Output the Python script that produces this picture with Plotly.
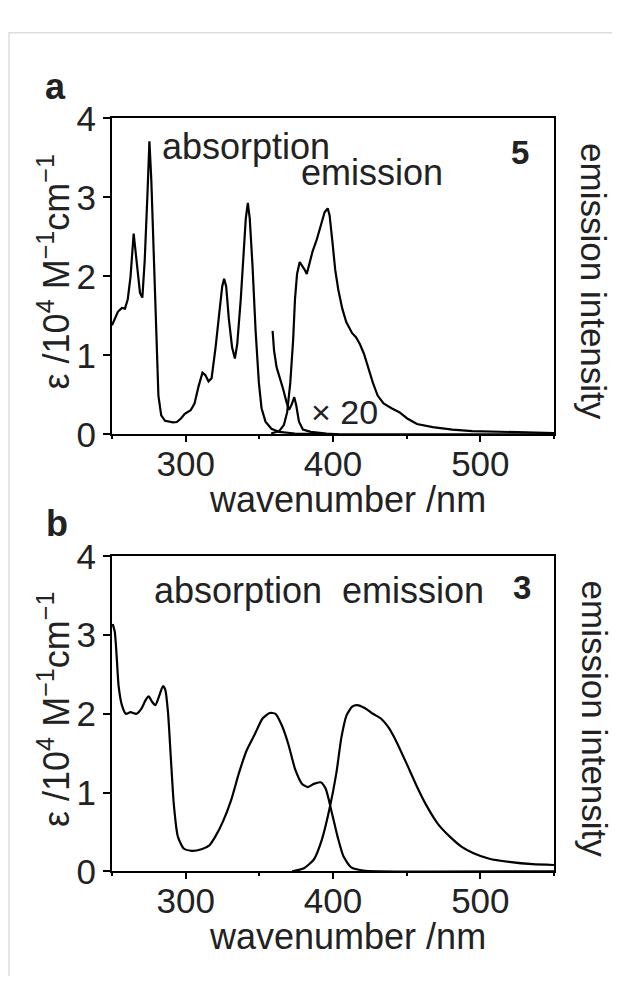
import plotly.graph_objects as go

# panel a: compound 5
wl_abs_a = [250, 254, 256.7, 258.8, 260.7, 262.6, 264.7, 266.8, 269, 270.6, 272.2, 274, 275.4,
            276.7, 278.6, 280.2, 281.5, 283.4, 286, 291.4, 294, 296.8, 299.4, 303.4, 306, 308.8,
            311.4, 313.3, 315.5, 317.6, 320.3, 322.9, 324.8, 326.1, 327.5, 329.3, 331.5, 333.4,
            335, 337.4, 339.5, 340.8, 342.2, 343.5, 345.4, 347.5, 349.7, 351.5, 354.2, 358.2,
            363.5, 374.2, 400, 550]
abs_a = [1.38, 1.55, 1.6, 1.59, 1.71, 2.0, 2.54, 2.2, 1.79, 1.73, 2.2, 3.01, 3.71,
         3.21, 2.2, 1.18, 0.49, 0.24, 0.17, 0.15, 0.155, 0.2, 0.26, 0.305, 0.39, 0.61,
         0.78, 0.75, 0.67, 0.71, 1.1, 1.55, 1.87, 1.97, 1.87, 1.46, 1.1, 0.96,
         1.14, 1.71, 2.36, 2.73, 2.93, 2.73, 2.12, 1.3, 0.65, 0.33, 0.16, 0.07,
         0.03, 0.01, 0.0, 0.0]

wl_x20_a = [359, 360, 361.7, 364.1, 366.2, 368.4, 370.2, 371.8, 373.7, 375, 376.9, 379.6,
            384.9, 395.6, 403.6]
x20_a = [1.31, 1.06, 0.85, 0.71, 0.57, 0.41, 0.31, 0.37, 0.47, 0.37, 0.16, 0.06,
         0.03, 0.01, 0.0]

wl_em_a = [358, 363.5, 366.7, 368.9, 371, 372.9, 374.2, 375.6, 377.4, 379, 380.9, 382.2,
           384.1, 386.2, 388.9, 391.6, 394.3, 396.4, 397.7, 399.6, 401.5, 403.6, 406.3, 409,
           413, 415.6, 418.3, 421, 423.7, 427.1, 430.3, 434.3, 439.7, 445, 450.4, 457,
           467.7, 481, 494.5, 521, 550]
em_a = [0.01, 0.04, 0.12, 0.28, 0.65, 1.18, 1.71, 2.03, 2.18, 2.14, 2.08, 2.03,
        2.16, 2.32, 2.46, 2.64, 2.81, 2.86, 2.77, 2.44, 2.08, 1.83, 1.59, 1.42,
        1.28, 1.23, 1.14, 1.02, 0.85, 0.65, 0.49, 0.39, 0.33, 0.28, 0.2, 0.13,
        0.09, 0.06, 0.04, 0.025, 0.016]

# panel b: compound 3
wl_abs_b = [250.5, 251.9, 253.2, 254.5, 256.7, 259.4, 262.6, 266.6, 270.1, 272.7, 274.9,
            277.3, 279.4, 282.1, 284.5, 286.1, 288, 289.9, 292, 294.7, 298.7, 304.1, 310.7,
            316.1, 320.1, 325.5, 330.8, 336.2, 341.5, 346.9, 352.2, 357, 361, 365.1, 369.6,
            374.4, 379, 383, 387, 391.6, 395, 399, 403.1, 407.1, 412.4, 420.5, 431, 550]
abs_b = [3.14, 3.04, 2.72, 2.35, 2.11, 2.0, 2.02, 2.0, 2.07, 2.17, 2.22,
         2.15, 2.11, 2.23, 2.35, 2.31, 2.02, 1.45, 0.84, 0.44, 0.29, 0.26, 0.28,
         0.33, 0.44, 0.64, 0.9, 1.25, 1.54, 1.74, 1.94, 2.01, 2.0, 1.86, 1.62,
         1.29, 1.11, 1.07, 1.11, 1.13, 1.05, 0.76, 0.44, 0.19, 0.05, 0.01, 0.0, 0.0]

wl_em_b = [372.3, 380.3, 387, 392.4, 397.7, 402.3, 405.7, 409.2, 413, 416.4, 421.8, 427.1,
           432.5, 437.9, 443.2, 449.9, 456.6, 463.3, 471.3, 479.3, 487.4, 495.4, 506.1,
           519.5, 535.5, 550]
em_b = [0.0, 0.04, 0.15, 0.4, 0.8, 1.25, 1.7, 1.98, 2.09, 2.11, 2.07, 2.0,
        1.94, 1.82, 1.64, 1.37, 1.09, 0.84, 0.6, 0.44, 0.31, 0.23, 0.16,
        0.12, 0.09, 0.08]

# the page body keeps its default 8px margin, so the figure is 16px smaller than the window
OFF = 8
FW, FH = 620 - 2 * OFF, 1003 - 2 * OFF
FONT = "Liberation Sans, Arial, sans-serif"
TXT = "#222222"


def px(x):
    return (x - OFF) / FW


def py(y):
    return 1 - (y - OFF) / FH


sharp = dict(color="black", width=2.2)
smooth = dict(color="black", width=2.2, shape="spline", smoothing=0.6)

fig = go.Figure()
fig.add_trace(go.Scatter(x=wl_abs_a, y=abs_a, mode="lines", line=sharp, xaxis="x", yaxis="y"))
fig.add_trace(go.Scatter(x=wl_x20_a, y=x20_a, mode="lines", line=sharp, xaxis="x", yaxis="y"))
fig.add_trace(go.Scatter(x=wl_em_a, y=em_a, mode="lines", line=sharp, xaxis="x", yaxis="y"))
fig.add_trace(go.Scatter(x=wl_abs_b, y=abs_b, mode="lines", line=smooth, xaxis="x2", yaxis="y2"))
fig.add_trace(go.Scatter(x=wl_em_b, y=em_b, mode="lines", line=smooth, xaxis="x2", yaxis="y2"))

panels = [(102, 431), (558, 886)]  # top, bottom of each plot box


def xax(anchor):
    return dict(domain=[px(112), px(554)], anchor=anchor, range=[250, 550],
                tick0=300, dtick=100, ticks="outside", ticklen=6, tickwidth=2, tickcolor="black",
                minor=dict(dtick=50, tick0=250, ticks="outside", ticklen=3, tickwidth=2, tickcolor="black"),
                ticklabelstandoff=-8,
                showline=True, linecolor="black", linewidth=2, mirror=True,
                showgrid=False, zeroline=False, tickfont=dict(size=35, family=FONT, color=TXT))


def yax(anchor, top, bottom):
    return dict(domain=[py(bottom), py(top)], anchor=anchor, range=[0, 4],
                dtick=1, ticks="outside", ticklen=7, tickwidth=2, tickcolor="black",
                showline=True, linecolor="black", linewidth=2, mirror=True,
                showgrid=False, zeroline=False, tickfont=dict(size=35, family=FONT, color=TXT))


fig.update_layout(
    width=FW, height=FH, margin=dict(l=0, r=0, t=0, b=0),
    paper_bgcolor="white", plot_bgcolor="white", showlegend=False,
    font=dict(family=FONT, size=36, color=TXT),
    xaxis=xax("y"), yaxis=yax("x", *panels[0]),
    xaxis2=xax("y2"), yaxis2=yax("x2", *panels[1]),
)

ann = []
for (top, bottom), lab, lx, ly in zip(panels, ["a", "b"], [55, 57], [69, 524]):
    mid = (top + bottom) / 2
    ann.append(dict(xref="paper", yref="paper", x=px(lx), y=py(ly), text="<b>%s</b>" % lab,
                    font=dict(size=36)))
    ann.append(dict(xref="paper", yref="paper", x=px(54), y=py(mid - 5),
                    text="ε /10<sup>4</sup> M<sup>−1</sup>cm<sup>−1</sup>", textangle=-90,
                    font=dict(size=36)))
    ann.append(dict(xref="paper", yref="paper", x=px(594), y=py(mid + 5),
                    text="emission intensity", textangle=90, font=dict(size=35)))
    ann.append(dict(xref="paper", yref="paper", x=px(347), y=py(bottom + 68),
                    text="wavenumber /nm", font=dict(size=36)))

ann += [
    dict(xref="x", yref="y", x=282.5, y=3.64, text="absorption", xanchor="left", font=dict(size=36)),
    dict(xref="x", yref="y", x=377, y=3.31, text="emission", xanchor="left", font=dict(size=36)),
    dict(xref="x", yref="y", x=527, y=3.57, text="<b>5</b>", font=dict(size=33)),
    dict(xref="x", yref="y", x=383.6, y=0.28, text="× 20", xanchor="left", font=dict(size=34)),
    dict(xref="x2", yref="y2", x=277.3, y=3.57, text="absorption", xanchor="left", font=dict(size=36)),
    dict(xref="x2", yref="y2", x=405, y=3.57, text="emission", xanchor="left", font=dict(size=36)),
    dict(xref="x2", yref="y2", x=528, y=3.6, text="<b>3</b>", font=dict(size=33)),
]
for a in ann:
    a.setdefault("xanchor", "center")
    a.update(showarrow=False, yanchor="middle")
    a["font"].update(family=FONT, color=TXT)
fig.update_layout(annotations=ann)

# light grey frame round the figure
fig.add_shape(type="path", xref="paper", yref="paper",
              path="M %f,0 L %f,%f L 1,%f" % (px(9), px(9), py(13), py(13)),
              line=dict(color="#dddddd", width=1.5))

fig.write_html("out.html")
